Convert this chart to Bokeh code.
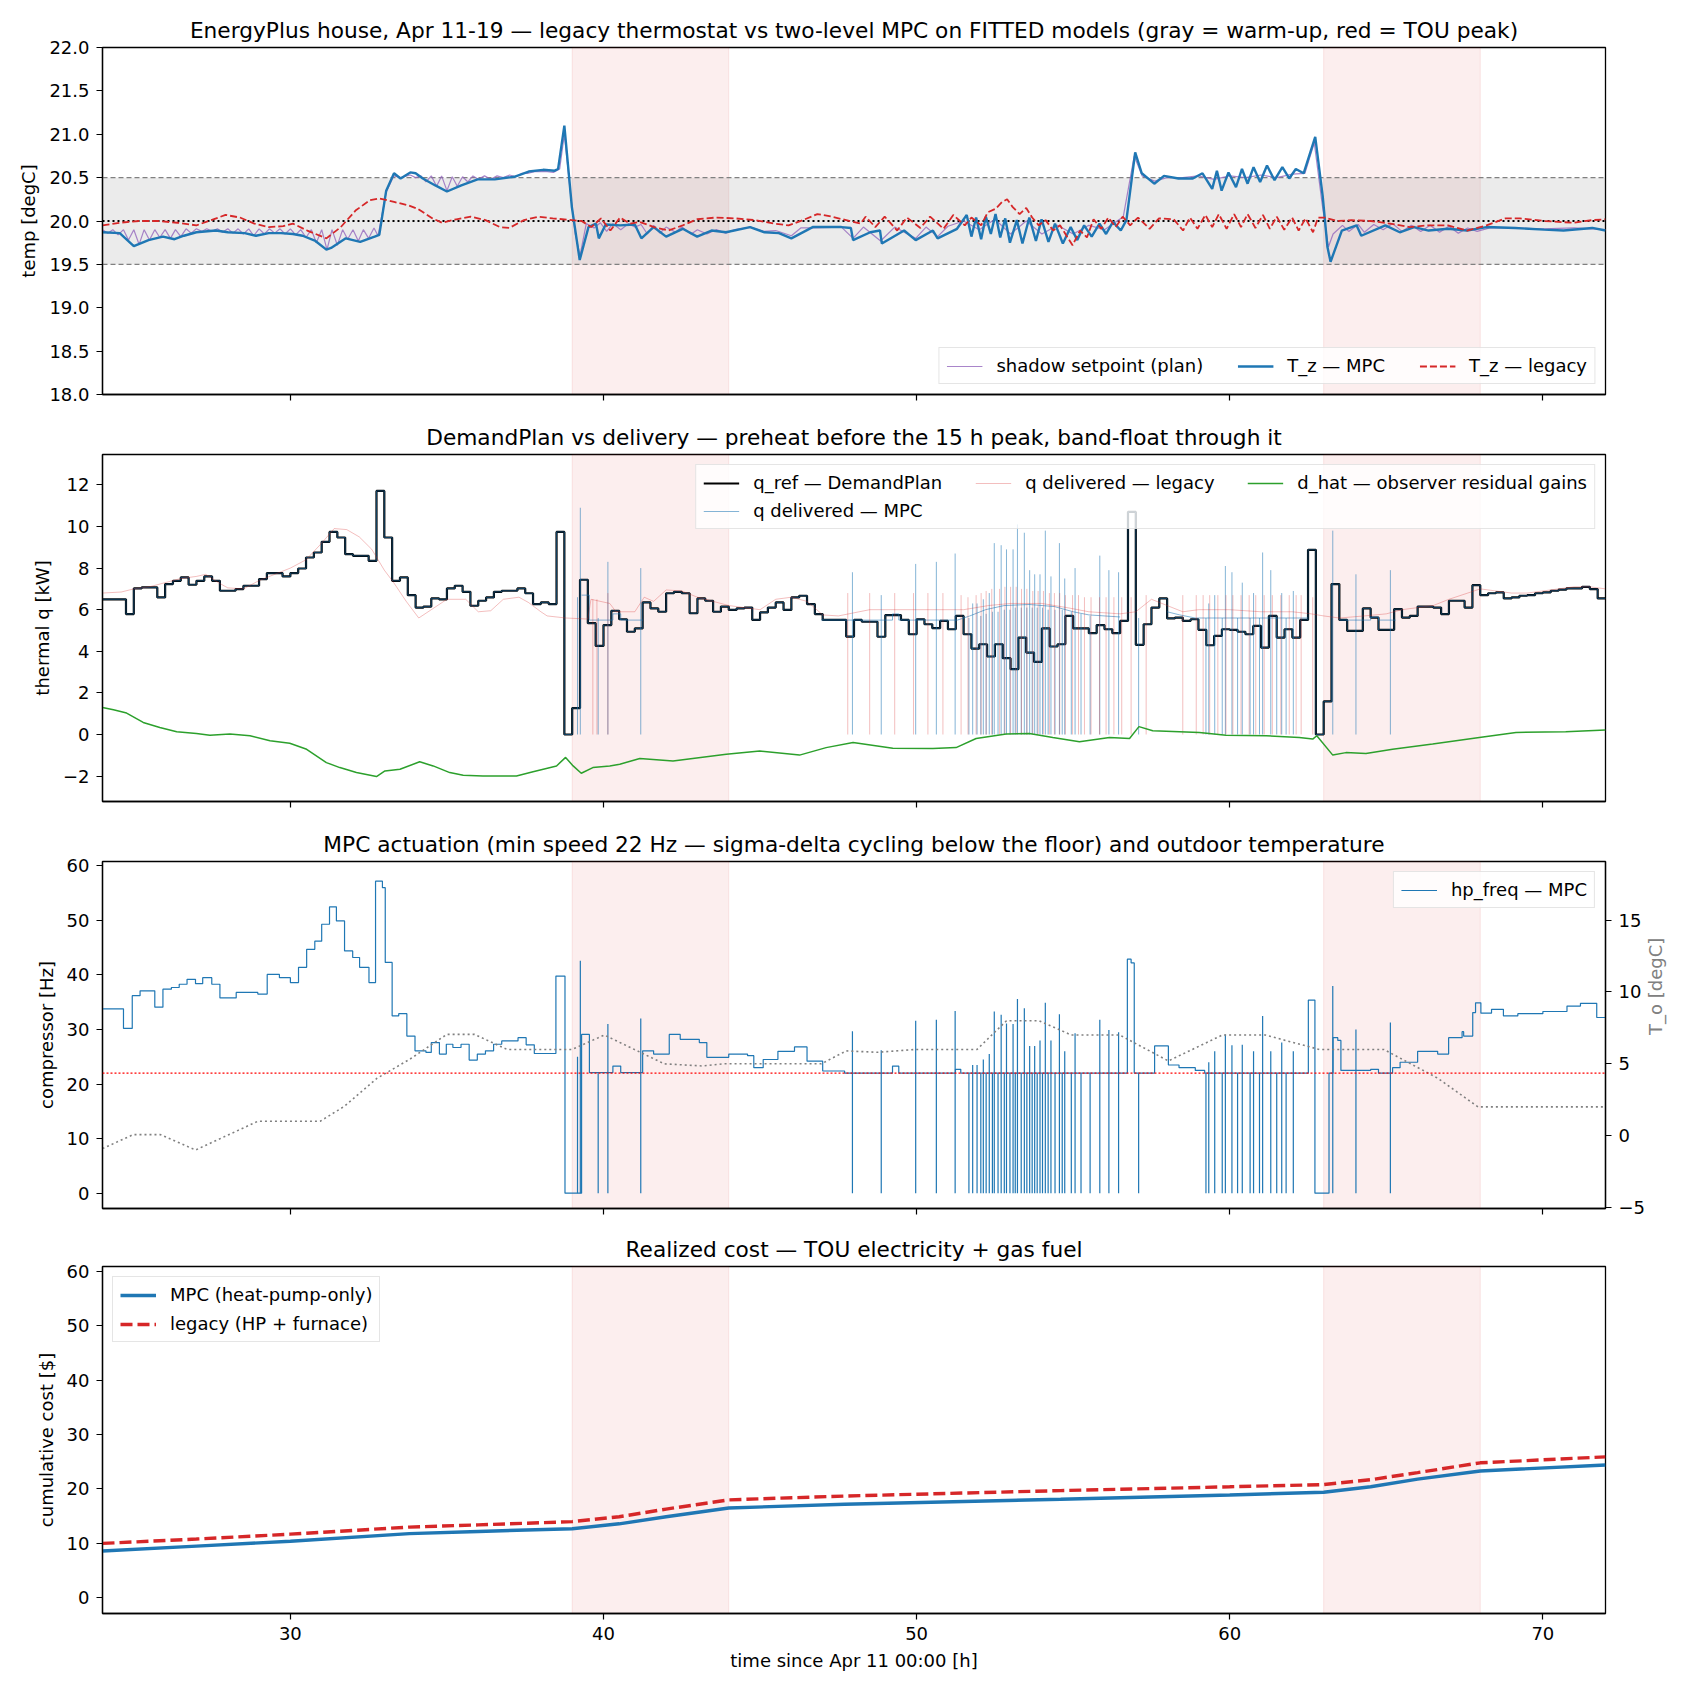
import math
from bokeh.plotting import figure
from bokeh.models import (Range1d, LinearAxis, FixedTicker, BoxAnnotation, Span, Legend,
                          LegendItem, NumeralTickFormatter)
from bokeh.layouts import column
from bokeh.embed import file_html
from bokeh.resources import INLINE

# ---------------------------------------------------------------- data
X_START, X_END = 24.0, 72.0
PEAK_START = [39.0, 63.0]
PEAK_END = [44.0, 68.0]
BAND_LO, BAND_HI, SETPOINT = 19.5, 20.5, 20.0
MIN_SPEED_HZ = 22.0
X_TICKS = [30, 40, 50, 60, 70]

# zone temperature, MPC (t [h], degC)
TZ_MPC = [(24.0, 19.87), (24.55, 19.86), (25.0, 19.71), (25.47, 19.78), (25.93, 19.82), (26.3, 19.79),
          (26.6, 19.83), (27.0, 19.87), (27.62, 19.89), (28.0, 19.87), (28.54, 19.86), (28.9, 19.83),
          (29.31, 19.86), (29.7, 19.86), (30.08, 19.85), (30.39, 19.83), (30.8, 19.77), (31.15, 19.67),
          (31.3, 19.69), (31.77, 19.80), (32.23, 19.76), (32.69, 19.82), (32.84, 19.84), (33.06, 20.35),
          (33.31, 20.55), (33.52, 20.49), (33.83, 20.56), (34.0, 20.55), (34.23, 20.49), (34.63, 20.41),
          (35.0, 20.34), (35.46, 20.41), (35.98, 20.48), (36.53, 20.48), (37.15, 20.51), (37.61, 20.57),
          (38.07, 20.59), (38.44, 20.58), (38.55, 20.60), (38.75, 21.10), (38.99, 20.16), (39.24, 19.55),
          (39.52, 19.93), (39.76, 19.97), (39.85, 19.80), (40.07, 19.96), (40.53, 19.95), (41.0, 19.96),
          (41.21, 19.80), (41.6, 19.93), (42.0, 19.82), (42.53, 19.91), (42.99, 19.82), (43.45, 19.89),
          (43.91, 19.87), (44.68, 19.93), (45.14, 19.87), (45.6, 19.86), (46.0, 19.80), (46.68, 19.93),
          (47.6, 19.93), (47.9, 19.92), (47.97, 19.78), (48.52, 19.87), (48.83, 19.89), (48.89, 19.74),
          (49.6, 19.89), (49.97, 19.78), (50.52, 19.89), (50.67, 19.80), (51.29, 19.91), (51.6, 20.07),
          (51.75, 19.82), (51.9, 20.04), (52.06, 19.79), (52.21, 20.05), (52.37, 19.85), (52.52, 20.08),
          (52.67, 19.81), (52.83, 20.03), (52.98, 19.75), (53.2, 20.01), (53.38, 19.74), (53.6, 20.04),
          (53.81, 19.77), (53.99, 20.02), (54.21, 19.76), (54.42, 19.97), (54.67, 19.74), (54.92, 19.93),
          (55.13, 19.78), (55.35, 19.95), (55.59, 19.82), (55.84, 19.97), (56.05, 19.85), (56.27, 19.99),
          (56.52, 19.89), (56.7, 20.01), (56.98, 20.79), (57.19, 20.55), (57.59, 20.43), (57.9, 20.52),
          (58.36, 20.49), (58.82, 20.49), (59.13, 20.55), (59.44, 20.37), (59.59, 20.58), (59.74, 20.35),
          (59.96, 20.56), (60.2, 20.39), (60.39, 20.60), (60.57, 20.43), (60.76, 20.62), (60.97, 20.45),
          (61.19, 20.64), (61.43, 20.47), (61.68, 20.62), (61.9, 20.49), (62.11, 20.60), (62.36, 20.55),
          (62.73, 20.97), (62.97, 20.28), (63.12, 19.70), (63.22, 19.53), (63.58, 19.89), (64.05, 19.95),
          (64.2, 19.83), (64.97, 19.95), (65.43, 19.87), (65.89, 19.93), (66.35, 19.89), (66.97, 19.91),
          (67.58, 19.89), (68.2, 19.93), (69.12, 19.92), (70.04, 19.90), (70.66, 19.89), (71.58, 19.92),
          (72.0, 19.89)]

# zone temperature, legacy thermostat
TZ_LEG = [(24.0, 19.95), (24.55, 19.98), (25.16, 20.0), (25.77, 20.0), (26.39, 19.98), (27.0, 19.95),
          (27.47, 20.01), (27.93, 20.07), (28.39, 20.04), (28.85, 19.97), (29.31, 19.93), (29.77, 19.94),
          (30.08, 19.97), (30.54, 19.89), (31.15, 19.80), (31.61, 19.93), (32.08, 20.12), (32.54, 20.24),
          (32.84, 20.26), (33.31, 20.22), (33.77, 20.18), (34.07, 20.14), (34.54, 20.03), (34.84, 19.98),
          (35.3, 20.02), (35.76, 20.05), (36.23, 20.01), (36.69, 19.93), (36.99, 19.92), (37.46, 20.01),
          (37.92, 20.05), (38.38, 20.03), (38.99, 20.01), (39.3, 20.0), (39.61, 19.93), (39.92, 20.03),
          (40.22, 19.89), (40.53, 20.04), (40.84, 19.97), (41.15, 19.99), (41.61, 19.93), (42.07, 19.89),
          (42.53, 19.95), (42.99, 20.02), (43.6, 20.04), (44.22, 20.03), (44.83, 20.01), (45.45, 19.97),
          (45.91, 19.95), (46.37, 20.01), (46.83, 20.08), (47.29, 20.05), (47.75, 20.01), (48.21, 19.97),
          (48.37, 20.05), (48.68, 19.93), (48.98, 20.05), (49.38, 19.89), (49.69, 20.04), (50.12, 19.92),
          (50.43, 20.05), (50.86, 19.91), (51.17, 20.07), (51.54, 19.95), (51.75, 20.04), (52.06, 19.95),
          (52.27, 20.10), (52.52, 20.14), (52.73, 20.22), (52.89, 20.25), (53.07, 20.16), (53.29, 20.08),
          (53.5, 20.15), (53.69, 20.04), (53.9, 19.95), (54.12, 20.01), (54.36, 19.89), (54.58, 19.95),
          (54.82, 19.81), (54.98, 19.72), (55.22, 19.89), (55.44, 19.81), (55.65, 20.02), (55.9, 19.91),
          (56.12, 20.04), (56.36, 19.93), (56.58, 20.05), (56.82, 19.95), (57.07, 20.04), (57.44, 19.91),
          (57.74, 20.03), (58.21, 20.02), (58.51, 19.89), (58.73, 20.04), (58.97, 19.91), (59.22, 20.07),
          (59.44, 19.93), (59.65, 20.08), (59.9, 19.91), (60.14, 20.08), (60.36, 19.93), (60.57, 20.08),
          (60.82, 19.92), (61.06, 20.07), (61.28, 19.91), (61.5, 20.05), (61.74, 19.90), (61.99, 20.04),
          (62.2, 19.89), (62.42, 20.03), (62.66, 19.87), (62.82, 20.04), (63.03, 20.04), (63.43, 20.0),
          (63.89, 20.01), (64.51, 20.0), (65.12, 19.97), (65.74, 19.93), (66.35, 19.95), (66.97, 19.95),
          (67.58, 19.89), (68.2, 19.95), (68.81, 20.03), (69.27, 20.03), (70.04, 20.0), (70.96, 19.98),
          (71.58, 20.01), (72.0, 20.02)]

# shadow setpoint (plan)
SHADOW = [(24.0, 19.9), (24.17, 19.86), (24.33, 19.9), (24.5, 19.84), (24.67, 19.9), (24.83, 19.78),
          (25.0, 19.9), (25.17, 19.73), (25.33, 19.9), (25.5, 19.78), (25.67, 19.9), (25.83, 19.81),
          (26.0, 19.9), (26.17, 19.8), (26.33, 19.9), (26.5, 19.82), (26.67, 19.91), (26.83, 19.86),
          (27.0, 19.91), (27.17, 19.88), (27.33, 19.91), (27.5, 19.88), (27.67, 19.91), (27.83, 19.87),
          (28.0, 19.91), (28.17, 19.86), (28.33, 19.91), (28.5, 19.85), (28.67, 19.91), (28.83, 19.83),
          (29.0, 19.91), (29.17, 19.85), (29.33, 19.91), (29.5, 19.86), (29.67, 19.91), (29.83, 19.85),
          (30.0, 19.91), (30.17, 19.84), (30.33, 19.9), (30.5, 19.81), (30.67, 19.9), (30.83, 19.75),
          (31.0, 19.9), (31.17, 19.67), (31.33, 19.9), (31.5, 19.72), (31.67, 19.9), (31.83, 19.79),
          (32.0, 19.9), (32.17, 19.77), (32.33, 19.9), (32.5, 19.8), (32.67, 19.92), (32.8, 19.83),
          (33.06, 20.33), (33.3, 20.52), (33.52, 20.5), (33.83, 20.53), (34.0, 20.5), (34.17, 20.52),
          (34.33, 20.45), (34.5, 20.52), (34.67, 20.4), (34.83, 20.52), (35.0, 20.35), (35.17, 20.51),
          (35.33, 20.4), (35.5, 20.51), (35.67, 20.45), (35.83, 20.52), (36.0, 20.48), (36.2, 20.52),
          (36.4, 20.48), (36.6, 20.52), (36.8, 20.5), (37.0, 20.53), (37.2, 20.51), (37.4, 20.55),
          (37.6, 20.55), (37.8, 20.57), (38.0, 20.57), (38.2, 20.57), (38.4, 20.56), (38.6, 20.6),
          (38.75, 21.0), (38.95, 20.3), (39.1, 19.85), (39.25, 19.6), (39.45, 19.97), (39.7, 19.92),
          (39.9, 19.98), (40.1, 19.88), (40.3, 19.97), (40.55, 19.9), (40.8, 19.97), (41.0, 19.93),
          (41.2, 19.96), (41.4, 19.85), (41.6, 19.95), (41.8, 19.86), (42.0, 19.93), (42.3, 19.87),
          (42.5, 19.93), (42.8, 19.85), (43.0, 19.9), (43.3, 19.85), (43.6, 19.9), (43.9, 19.86),
          (44.2, 19.9), (44.7, 19.93), (45.1, 19.88), (45.5, 19.89), (46.0, 19.83), (46.3, 19.92),
          (46.7, 19.92), (47.6, 19.93), (47.97, 19.8), (48.3, 19.93), (48.85, 19.77), (49.3, 19.93),
          (49.97, 19.8), (50.3, 19.93), (50.67, 19.82), (51.0, 19.94), (51.5, 20.0), (52.0, 19.9),
          (52.5, 20.02), (53.0, 19.85), (53.5, 20.0), (54.0, 19.85), (54.5, 19.95), (55.0, 19.85),
          (55.5, 19.95), (56.0, 19.9), (56.6, 20.05), (56.95, 20.75), (57.2, 20.52), (57.6, 20.46),
          (58.0, 20.5), (58.5, 20.5), (59.0, 20.52), (59.5, 20.48), (60.0, 20.52), (60.5, 20.5),
          (61.0, 20.53), (61.5, 20.5), (62.0, 20.54), (62.4, 20.55), (62.7, 20.9), (62.95, 20.2),
          (63.15, 19.7), (63.3, 19.85), (63.6, 19.95), (63.8, 19.88), (64.1, 19.96), (64.3, 19.87),
          (64.6, 19.96), (64.9, 19.9), (65.2, 19.97), (65.5, 19.88), (65.8, 19.95), (66.1, 19.88),
          (66.4, 19.95), (66.7, 19.87), (67.0, 19.94), (67.3, 19.86), (67.6, 19.92), (67.9, 19.88),
          (68.3, 19.92), (69.0, 19.92), (70.0, 19.91), (71.0, 19.92), (72.0, 19.9)]

# DemandPlan q_ref, piecewise constant (step start [h], kW)
Q_REF = [(24.0, 6.5), (24.75, 5.79), (25.0, 7.02), (25.25, 7.07), (25.75, 6.59), (26.0, 7.23), (26.25, 7.39),
         (26.5, 7.55), (26.75, 7.2), (27.0, 7.39), (27.25, 7.6), (27.5, 7.39), (27.75, 6.91), (28.25, 6.99),
         (28.5, 7.15), (29.0, 7.47), (29.25, 7.76), (29.75, 7.6), (30.0, 7.76), (30.25, 7.98), (30.5, 8.51),
         (30.75, 8.75), (31.0, 9.26), (31.25, 9.74), (31.5, 9.47), (31.75, 8.67), (32.0, 8.59), (32.5, 8.35),
         (32.75, 11.71), (33.0, 9.47), (33.25, 7.39), (33.5, 7.55), (33.75, 6.7), (34.0, 6.1), (34.25, 6.15),
         (34.5, 6.54), (34.75, 6.5), (35.0, 7.02), (35.25, 7.15), (35.5, 6.86), (35.75, 6.19), (36.0, 6.43),
         (36.25, 6.59), (36.5, 6.86), (36.75, 6.91), (37.25, 7.02), (37.5, 6.79), (37.75, 6.27), (38.0, 6.35),
         (38.25, 6.27), (38.5, 9.74), (38.75, 0.0), (39.0, 1.27), (39.25, 7.44), (39.5, 5.35), (39.75, 4.26),
         (40.0, 5.26), (40.25, 5.95), (40.5, 5.54), (40.75, 4.94), (41.0, 5.1), (41.25, 6.35), (41.5, 6.06),
         (41.75, 5.9), (42.0, 6.79), (42.25, 6.86), (42.5, 6.79), (42.75, 5.83), (43.0, 6.54), (43.25, 6.43),
         (43.5, 5.9), (43.75, 6.15), (44.0, 5.99), (44.25, 6.06), (44.5, 6.1), (44.75, 5.51), (45.0, 5.87),
         (45.25, 6.1), (45.5, 6.35), (45.75, 5.99), (46.0, 6.59), (46.25, 6.67), (46.5, 6.27), (46.75, 5.79),
         (47.0, 5.51), (47.75, 4.71), (48.0, 5.51), (48.25, 5.42), (48.75, 4.7), (49.0, 5.74), (49.5, 5.51),
         (49.75, 4.82), (50.0, 5.54), (50.25, 5.3), (50.5, 5.11), (50.75, 5.46), (51.0, 5.06), (51.25, 5.7),
         (51.5, 4.82), (51.75, 4.13), (52.0, 4.34), (52.25, 3.75), (52.5, 4.34), (52.75, 3.67), (53.0, 3.14),
         (53.25, 4.66), (53.5, 3.94), (53.75, 3.49), (54.0, 5.1), (54.25, 4.23), (54.5, 4.34), (54.75, 5.7),
         (55.0, 5.1), (55.5, 4.87), (55.75, 5.26), (56.0, 5.06), (56.25, 4.87), (56.5, 5.46), (56.75, 10.7),
         (57.0, 4.31), (57.25, 5.3), (57.5, 6.1), (57.75, 6.54), (58.0, 5.58), (58.25, 5.62), (58.5, 5.46),
         (58.75, 5.54), (59.0, 5.03), (59.25, 4.29), (59.5, 4.74), (59.75, 5.06), (60.0, 5.03), (60.25, 4.94),
         (60.5, 4.82), (60.75, 5.22), (61.0, 4.18), (61.25, 5.7), (61.5, 4.66), (61.75, 5.06), (62.0, 4.66),
         (62.25, 5.51), (62.5, 8.88), (62.75, 0.0), (63.0, 1.59), (63.25, 7.23), (63.5, 5.51), (63.75, 4.98),
         (64.25, 6.06), (64.5, 5.62), (64.75, 5.03), (65.25, 6.03), (65.5, 5.62), (65.75, 5.7), (66.0, 6.15),
         (66.5, 6.1), (66.75, 5.79), (67.0, 6.43), (67.5, 6.1), (67.75, 7.18), (68.0, 6.7), (68.25, 6.79),
         (68.5, 6.83), (68.75, 6.54), (69.0, 6.59), (69.25, 6.67), (69.5, 6.7), (69.75, 6.79), (70.0, 6.83),
         (70.25, 6.91), (70.5, 6.96), (70.75, 7.02), (71.25, 7.1), (71.5, 6.99), (71.75, 6.54), (72.0, 6.54)]

# q delivered MPC where it sits on the compressor floor (above the plan); None = gap
Q_MPC_FLOOR = [(39.3, 6.7), (39.55, 6.7), (39.55, 5.5), (40.3, 5.5), (40.3, 5.8), (40.55, 5.8), (40.55, 5.5),
               (41.25, 5.5), (None, None),
               (46.95, 5.5), (49.23, 5.5), (49.23, 5.8), (49.43, 5.8), (49.43, 5.5), (51.3, 5.5), (51.7, 5.7),
               (52.2, 6.0), (52.8, 6.2), (53.6, 6.25), (54.4, 6.15), (55.0, 5.9), (55.5, 5.75), (56.5, 5.65),
               (None, None),
               (58.0, 5.9), (58.4, 5.75), (58.9, 5.6), (62.5, 5.6), (None, None),
               (63.5, 5.5), (64.5, 5.5), (64.5, 5.65), (64.75, 5.65), (64.75, 5.5), (65.3, 5.5)]

# sigma-delta cycle events: time [h], compressor peak [Hz], thermal peak [kW]
CYCLE_T = [39.17, 39.26, 39.83, 40.14, 41.19, 47.95, 48.87, 49.97, 50.63, 51.23, 51.67, 51.79, 51.93, 52.05,
           52.13, 52.22, 52.32, 52.42, 52.48, 52.6, 52.7, 52.8, 52.87, 52.98, 53.08, 53.15, 53.22, 53.34,
           53.44, 53.52, 53.61, 53.69, 53.77, 53.85, 53.94, 54.02, 54.11, 54.2, 54.29, 54.42, 54.56, 54.65,
           54.73, 54.94, 55.06, 55.25, 55.54, 55.85, 56.14, 56.45, 57.09, 59.24, 59.33, 59.52, 59.76, 59.86,
           60.07, 60.25, 60.4, 60.65, 60.76, 60.95, 61.05, 61.31, 61.5, 61.66, 61.8, 62.03, 63.29, 64.03, 65.13]
CYCLE_HZ = [25, 42.6, 22, 31, 32, 29.7, 26.2, 31.6, 31.8, 33.4, 22, 23.5, 23.5, 22, 24.5, 22, 25.5, 22, 33.3,
            22, 32.7, 22, 31.1, 22, 31, 22, 35.6, 22, 33.9, 22, 27, 22, 27, 22, 28, 22, 34.9, 22, 28, 22, 32.8,
            22, 26, 22, 29.3, 22, 22, 31.8, 29.9, 29.5, 22, 22, 24, 26, 22, 29.1, 27.1, 22, 27.2, 22, 26, 22,
            32.5, 26, 22, 27.6, 22, 26, 38, 30, 31.3]
CYCLE_KW = [6.6, 10.9, 5.6, 8.3, 8.0, 7.8, 6.7, 8.2, 8.3, 8.7, 5.6, 6.3, 6.3, 5.7, 6.5, 5.8, 6.8, 5.9, 9.2, 5.9,
            9.1, 6.0, 8.9, 6.0, 8.9, 6.1, 10.1, 6.1, 9.7, 6.1, 7.9, 6.1, 7.7, 6.1, 7.7, 6.1, 9.8, 6.0, 7.6, 6.0,
            9.2, 6.0, 7.5, 5.9, 8.0, 5.8, 5.7, 8.6, 7.9, 7.8, 5.6, 5.6, 6.3, 6.7, 5.6, 8.1, 7.8, 5.6, 7.3, 5.6,
            6.8, 5.6, 8.75, 7.9, 5.6, 6.8, 5.6, 6.9, 9.8, 7.7, 7.9]

# q delivered, legacy (HP + furnace)
Q_LEG = [(24.0, 6.8), (24.6, 6.85), (25.0, 7.0), (25.5, 7.1), (26.0, 7.3), (26.5, 7.5), (27.0, 7.6), (27.3, 7.7),
         (27.7, 7.3), (28.0, 7.05), (28.5, 7.0), (29.0, 7.4), (29.5, 7.7), (30.0, 8.0), (30.5, 8.4), (31.0, 9.2),
         (31.4, 9.9), (31.8, 9.85), (32.2, 9.5), (32.6, 8.9), (33.0, 7.9), (33.3, 7.3), (33.7, 6.4), (34.1, 5.6),
         (34.5, 6.0), (35.0, 6.5), (35.6, 6.5), (36.0, 5.9), (36.4, 5.95), (36.8, 6.5), (37.3, 6.6), (37.6, 6.35),
         (38.0, 5.9), (38.2, 5.7), (38.8, 5.6), (39.5, 5.55), (39.6, 6.5), (40.2, 6.3), (40.4, 5.9), (41.0, 5.9),
         (41.3, 6.6), (41.6, 6.4), (42.0, 6.95), (42.5, 6.9), (43.0, 6.6), (43.5, 6.4), (44.0, 6.2), (44.5, 6.1),
         (45.0, 6.0), (45.5, 6.5), (46.0, 6.6), (46.5, 6.4), (47.0, 5.75), (47.5, 5.7), (48.5, 6.0), (49.5, 6.0),
         (50.5, 6.0), (51.5, 6.0), (52.3, 6.2), (53.0, 6.3), (54.0, 6.3), (54.8, 6.1), (55.5, 5.9), (56.5, 5.8),
         (57.0, 5.9), (57.5, 6.5), (58.0, 6.2), (58.5, 5.9), (59.0, 6.0), (60.0, 6.0), (61.0, 5.9), (62.0, 5.9),
         (62.6, 5.8), (63.0, 5.7), (63.5, 5.6), (64.3, 5.7), (65.0, 5.8), (65.5, 6.0), (66.0, 6.1), (66.5, 6.2),
         (67.0, 6.5), (67.6, 6.8), (68.0, 7.0), (68.5, 6.9), (69.0, 6.8), (69.5, 6.8), (70.0, 6.9), (70.5, 7.0),
         (71.0, 7.1), (71.5, 7.1), (72.0, 7.0)]

# legacy on/off cycles (time [h], kW reached after restart)
LEG_CYCLE_T = [39.66, 39.79, 40.14, 47.8, 48.5, 49.3, 49.9, 50.36, 50.84, 51.42, 51.64, 51.9, 52.06, 52.22,
               52.4, 52.65, 52.82, 53.0, 53.18, 53.35, 53.52, 53.71, 53.88, 54.05, 54.24, 54.4, 54.57, 54.75,
               54.98, 55.17, 55.36, 55.57, 55.84, 56.05, 56.3, 56.55, 56.85, 57.33, 58.5, 58.93, 59.15, 59.36,
               59.62, 59.88, 60.1, 60.36, 60.62, 60.83, 61.1, 61.36, 61.63, 61.9, 62.12, 62.28, 62.65]
LEG_CYCLE_KW = [6.5, 6.5, 6.8, 6.8, 6.8, 6.8, 6.8, 6.8, 6.8, 6.7, 6.6, 6.7, 6.8, 6.9, 7.0, 7.0, 7.1, 7.1, 7.1,
                7.0, 7.0, 6.9, 6.9, 6.9, 6.8, 6.8, 6.8, 6.7, 6.7, 6.7, 6.6, 6.6, 6.6, 6.6, 6.6, 6.6, 6.6, 6.7,
                6.7, 6.7, 6.7, 6.7, 6.7, 6.7, 6.7, 6.7, 6.7, 6.7, 6.7, 6.7, 6.7, 6.7, 6.7, 6.7, 6.6]

# observer residual gains d_hat [kW]
D_HAT = [(24.0, 1.3), (24.35, 1.19), (24.77, 1.03), (25.3, 0.58), (25.83, 0.34), (26.37, 0.13), (27.0, 0.05),
         (27.43, -0.03), (28.07, 0.03), (28.71, -0.06), (29.35, -0.30), (29.98, -0.42), (30.52, -0.71),
         (31.15, -1.35), (31.58, -1.59), (32.11, -1.83), (32.75, -2.02), (33.02, -1.75), (33.5, -1.67),
         (34.13, -1.31), (34.56, -1.51), (35.09, -1.83), (35.52, -1.96), (36.15, -1.99), (37.22, -1.99),
         (37.75, -1.79), (38.5, -1.51), (38.79, -1.1), (39.03, -1.51), (39.29, -1.86), (39.66, -1.59),
         (40.2, -1.51), (40.52, -1.43), (41.16, -1.15), (42.22, -1.27), (43.92, -0.95), (44.99, -0.79),
         (46.26, -0.99), (47.11, -0.63), (47.97, -0.38), (49.24, -0.66), (50.52, -0.67), (51.26, -0.63),
         (51.9, -0.19), (52.86, 0.02), (53.6, 0.05), (54.35, -0.14), (55.2, -0.35), (56.16, -0.14),
         (56.8, -0.19), (57.1, 0.38), (57.54, 0.18), (59.03, 0.10), (59.88, -0.03), (61.16, -0.06),
         (62.22, -0.14), (62.65, -0.22), (62.78, -0.06), (63.29, -0.99), (63.71, -0.87), (64.35, -0.91),
         (65.2, -0.71), (66.48, -0.46), (67.97, -0.14), (69.14, 0.10), (70.73, 0.13), (72.0, 0.22)]

# compressor frequency, piecewise constant (step start [h], Hz)
HP_FREQ = [(24.0, 33.8), (24.67, 30.2), (24.95, 36.2), (25.2, 37.1), (25.67, 34.1), (25.93, 37.4), (26.2, 37.7),
           (26.45, 38.3), (26.7, 39.2), (26.97, 38.4), (27.2, 39.5), (27.49, 38.3), (27.75, 35.8), (28.27, 36.8),
           (28.96, 36.5), (29.26, 40.1), (29.65, 39.5), (30.0, 38.6), (30.26, 41.4), (30.52, 44.7), (30.78, 46.2),
           (31.0, 49.3), (31.25, 52.5), (31.47, 49.9), (31.73, 44.4), (31.99, 43.2), (32.21, 41.4), (32.51, 38.6),
           (32.72, 57.2), (32.94, 56.0), (33.03, 42.3), (33.25, 32.5), (33.46, 32.9), (33.72, 28.8), (33.98, 26.1),
           (34.33, 25.8), (34.5, 27.6), (34.76, 25.5), (34.98, 27.3), (35.19, 26.7), (35.45, 27.3), (35.71, 24.4),
           (35.97, 25.5), (36.23, 26.1), (36.49, 27.3), (36.75, 27.9), (37.27, 28.5), (37.53, 27.2), (37.79, 25.6),
           (38.48, 39.8), (38.77, 0.0), (39.3, 29.1), (39.55, 22.1), (40.3, 23.3), (40.55, 22.1), (41.25, 26.1),
           (41.6, 25.5), (42.1, 29.1), (42.45, 28.2), (43.06, 27.6), (43.3, 24.9), (44.0, 25.5), (44.6, 25.2),
           (44.8, 23.0), (45.1, 24.5), (45.57, 26.0), (46.1, 26.8), (46.5, 24.2), (47.0, 22.4), (47.7, 22.0),
           (49.23, 23.3), (49.43, 22.0), (51.24, 22.7), (51.41, 22.0), (56.73, 42.9), (56.85, 42.2), (56.95, 22.0),
           (57.6, 27.0), (58.04, 23.5), (58.38, 23.0), (58.9, 22.5), (59.2, 22.0), (62.51, 35.4), (62.72, 0.0),
           (63.17, 22.0), (63.3, 28.5), (63.45, 28.0), (63.55, 22.5), (64.5, 22.7), (64.75, 22.0), (65.2, 23.0),
           (65.44, 24.0), (66.0, 26.0), (66.64, 25.5), (66.99, 28.5), (67.42, 29.6), (67.47, 28.8), (67.76, 33.1),
           (67.85, 34.9), (68.02, 33.0), (68.36, 33.7), (68.74, 32.5), (69.2, 32.9), (70.0, 33.3), (70.77, 34.3),
           (71.2, 34.8), (71.72, 32.2), (72.0, 32.4)]

# outdoor temperature [degC]
T_OUT = [(24.0, -0.9), (24.98, 0.07), (25.85, 0.07), (26.97, -1.0), (28.96, 1.0), (30.95, 1.0), (31.73, 2.05),
         (32.77, 4.0), (33.8, 5.3), (35.0, 7.05), (35.88, 7.05), (36.92, 6.0), (38.99, 6.0), (40.03, 7.0),
         (41.94, 5.0), (43.15, 4.85), (43.84, 5.0), (46.96, 5.0), (47.75, 5.9), (48.74, 5.8), (49.95, 6.0),
         (51.93, 6.0), (52.87, 8.0), (53.91, 8.0), (54.94, 7.0), (56.49, 7.0), (58.04, 5.2), (59.76, 7.0),
         (61.14, 7.0), (62.86, 6.0), (64.92, 6.0), (66.64, 4.0), (67.93, 2.0), (72.0, 2.0)]

# cumulative cost [$]
COST_T = [24.0, 27.0, 30.0, 33.8, 36.0, 39.0, 40.5, 42.0, 44.0, 47.7, 54.6, 60.0, 63.0, 64.5, 66.0, 68.0, 72.0]
COST_MPC = [8.6, 9.5, 10.4, 11.8, 12.2, 12.7, 13.6, 14.9, 16.5, 17.2, 18.1, 18.9, 19.4, 20.4, 21.8, 23.3, 24.4]
COST_LEG = [10.0, 10.8, 11.7, 13.0, 13.4, 14.0, 14.9, 16.3, 18.0, 18.7, 19.7, 20.4, 20.8, 21.7, 23.0, 24.8, 25.9]

# ---------------------------------------------------------------- style
FONT = "DejaVu Sans"
BLUE, RED, PURPLE, GREEN = "#1f77b4", "#d62728", "#9467bd", "#2ca02c"
FRAME_W, FRAME_H = 1503, 347
TXT = "18px"


def unzip(pairs):
    xs = [math.nan if a is None else a for a, _ in pairs]
    ys = [math.nan if b is None else b for _, b in pairs]
    return xs, ys


def style_axis(ax):
    ax.axis_line_color = "black"
    ax.axis_line_width = 1.3
    ax.major_tick_line_color = "black"
    ax.major_tick_line_width = 1.2
    ax.major_tick_out = 6
    ax.major_tick_in = 0
    ax.minor_tick_line_color = None
    ax.major_label_text_font = FONT
    ax.major_label_text_font_size = TXT
    ax.major_label_text_color = "black"
    ax.major_label_standoff = 7
    ax.axis_label_text_font = FONT
    ax.axis_label_text_font_size = TXT
    ax.axis_label_text_font_style = "normal"
    ax.axis_label_text_color = "black"
    ax.axis_label_standoff = 7


def make_fig(title, y_range, y_ticks, top, bottom, x_labels=False):
    p = figure(frame_width=FRAME_W, frame_height=FRAME_H, x_range=Range1d(X_START, X_END),
               y_range=y_range, output_backend="svg", toolbar_location=None,
               min_border_left=102, min_border_right=80, min_border_top=top, min_border_bottom=bottom,
               background_fill_color="white", border_fill_color="white")
    p.title.text = title
    p.title.align = "center"
    p.title.text_font = FONT
    p.title.text_font_size = "21.7px"
    p.title.text_font_style = "normal"
    p.title.text_color = "black"
    p.title.standoff = 9
    p.xgrid.visible = False
    p.ygrid.visible = False
    p.outline_line_color = "black"
    p.outline_line_width = 1.3
    p.outline_line_alpha = 1.0
    p.xaxis.ticker = FixedTicker(ticks=X_TICKS)
    p.yaxis.ticker = FixedTicker(ticks=y_ticks)
    for ax in p.axis:
        style_axis(ax)
    if not x_labels:
        p.xaxis.major_label_text_color = None
        p.xaxis.major_label_standoff = 0
    for s, e in zip(PEAK_START, PEAK_END):
        p.add_layout(BoxAnnotation(left=s, right=e, fill_color=RED, fill_alpha=0.08,
                                   line_color=RED, line_alpha=0.1, line_width=1, level="underlay"))
    return p


def style_legend(leg, spacing=8, label_width=20):
    leg.label_text_font = FONT
    leg.label_text_font_size = TXT
    leg.label_text_color = "black"
    leg.border_line_color = "#cccccc"
    leg.border_line_width = 1
    leg.background_fill_alpha = 0.8
    leg.glyph_width = 36
    leg.glyph_height = 20
    leg.label_height = 20
    leg.label_width = label_width
    leg.label_standoff = 14
    leg.spacing = spacing
    leg.padding = 7
    leg.margin = 10


# ---------------------------------------------------------------- panel 1
p1 = make_fig("EnergyPlus house, Apr 11-19 \u2014 legacy thermostat vs two-level MPC on FITTED models "
              "(gray = warm-up, red = TOU peak)", Range1d(18.0, 22.0),
              [18.0, 18.5, 19.0, 19.5, 20.0, 20.5, 21.0, 21.5, 22.0], 47, 21)
p1.yaxis.formatter = NumeralTickFormatter(format="0.0")
p1.yaxis.axis_label = "temp [degC]"
p1.add_layout(BoxAnnotation(bottom=BAND_LO, top=BAND_HI, fill_color="gray", fill_alpha=0.16,
                            line_alpha=0, level="underlay"))
for loc in (BAND_LO, BAND_HI):
    p1.add_layout(Span(location=loc, dimension="width", line_color="gray", line_dash="5 3",
                       line_width=1.3, level="underlay"))
p1.add_layout(Span(location=SETPOINT, dimension="width", line_color="black", line_dash="2 3",
                   line_width=1.8, level="underlay"))
sx, sy = unzip(SHADOW)
r_sh = p1.line(sx, sy, line_color=PURPLE, line_width=1.2, line_alpha=0.8)
mx, my = unzip(TZ_MPC)
r_mpc = p1.line(mx, my, line_color=BLUE, line_width=2.4)
lx, ly = unzip(TZ_LEG)
r_leg = p1.line(lx, ly, line_color=RED, line_width=1.8, line_dash="7 3")
leg1 = Legend(items=[LegendItem(label="shadow setpoint (plan)", renderers=[r_sh]),
                     LegendItem(label="T_z \u2014 MPC", renderers=[r_mpc]),
                     LegendItem(label="T_z \u2014 legacy", renderers=[r_leg])],
              location="bottom_right", orientation="horizontal")
style_legend(leg1, spacing=34)
p1.add_layout(leg1)

# ---------------------------------------------------------------- panel 2
p2 = make_fig("DemandPlan vs delivery \u2014 preheat before the 15 h peak, band-float through it",
              Range1d(-3.22, 13.46), [-2, 0, 2, 4, 6, 8, 10, 12], 39, 21)
p2.yaxis.major_label_overrides = {-2: "\u22122"}
p2.yaxis.axis_label = "thermal q [kW]"
qx, qy = unzip(Q_REF)
r_qref = p2.step(qx, qy, mode="after", line_color="black", line_width=2.2)
r_qmpc = p2.step(qx, qy, mode="after", line_color=BLUE, line_width=1.0, line_alpha=0.55)
fx, fy = unzip(Q_MPC_FLOOR)
p2.line(fx, fy, line_color=BLUE, line_width=1.0, line_alpha=0.55)
p2.segment(x0=CYCLE_T, y0=[0.0] * len(CYCLE_T), x1=CYCLE_T, y1=CYCLE_KW,
           line_color=BLUE, line_width=1.0, line_alpha=0.55)
gx, gy = unzip(Q_LEG)
r_qleg = p2.line(gx, gy, line_color=RED, line_width=1.0, line_alpha=0.3)
p2.segment(x0=LEG_CYCLE_T, y0=[0.0] * len(LEG_CYCLE_T), x1=LEG_CYCLE_T, y1=LEG_CYCLE_KW,
           line_color=RED, line_width=1.0, line_alpha=0.3)
dx, dy = unzip(D_HAT)
r_dhat = p2.line(dx, dy, line_color=GREEN, line_width=1.5)
leg2 = Legend(items=[LegendItem(label="q_ref \u2014 DemandPlan", renderers=[r_qref]),
                     LegendItem(label="q delivered \u2014 legacy", renderers=[r_qleg]),
                     LegendItem(label="d_hat \u2014 observer residual gains", renderers=[r_dhat]),
                     LegendItem(label="q delivered \u2014 MPC", renderers=[r_qmpc])],
              location="top_right", orientation="horizontal", ncols=3)
style_legend(leg2, spacing=7, label_width=215)
p2.add_layout(leg2)

# ---------------------------------------------------------------- panel 3
p3 = make_fig("MPC actuation (min speed 22 Hz \u2014 sigma-delta cycling below the floor) and outdoor temperature",
              Range1d(-2.81, 60.8), [0, 10, 20, 30, 40, 50, 60], 39, 19)
p3.yaxis.axis_label = "compressor [Hz]"
p3.extra_y_ranges = {"tout": Range1d(-5.07, 19.08)}
ax_r = LinearAxis(y_range_name="tout", axis_label="T_o [degC]", ticker=FixedTicker(ticks=[-5, 0, 5, 10, 15]))
style_axis(ax_r)
ax_r.major_label_overrides = {-5: "\u22125"}
ax_r.axis_label_text_color = "gray"
if "axis_label_orientation" in LinearAxis.properties():
    ax_r.axis_label_orientation = math.pi / 2
p3.add_layout(ax_r, "right")
hx, hy = unzip(HP_FREQ)
r_hp = p3.step(hx, hy, mode="after", line_color=BLUE, line_width=1.2)
p3.segment(x0=CYCLE_T, y0=[0.0] * len(CYCLE_T), x1=CYCLE_T, y1=CYCLE_HZ, line_color=BLUE, line_width=1.2)
p3.add_layout(Span(location=MIN_SPEED_HZ, dimension="width", line_color="red", line_dash="2 2",
                   line_width=1.3))
ox, oy = unzip(T_OUT)
p3.line(ox, oy, y_range_name="tout", line_color="gray", line_dash="2 3", line_width=1.6)
leg3 = Legend(items=[LegendItem(label="hp_freq \u2014 MPC", renderers=[r_hp])], location="top_right")
style_legend(leg3)
p3.add_layout(leg3)

# ---------------------------------------------------------------- panel 4
p4 = make_fig("Realized cost \u2014 TOU electricity + gas fuel", Range1d(-2.87, 60.85),
              [0, 10, 20, 30, 40, 50, 60], 39, 70, x_labels=True)
p4.yaxis.axis_label = "cumulative cost [$]"
p4.xaxis.axis_label = "time since Apr 11 00:00 [h]"
p4.xaxis.axis_label_standoff = 7
r_c1 = p4.line(COST_T, COST_MPC, line_color=BLUE, line_width=3.4)
r_c2 = p4.line(COST_T, COST_LEG, line_color=RED, line_width=3.4, line_dash="12 5")
leg4 = Legend(items=[LegendItem(label="MPC (heat-pump-only)", renderers=[r_c1]),
                     LegendItem(label="legacy (HP + furnace)", renderers=[r_c2])],
              location="top_left")
style_legend(leg4)
p4.add_layout(leg4)

layout = column(p1, p2, p3, p4, spacing=0)
open("out.html", "w").write(file_html(layout, INLINE))
